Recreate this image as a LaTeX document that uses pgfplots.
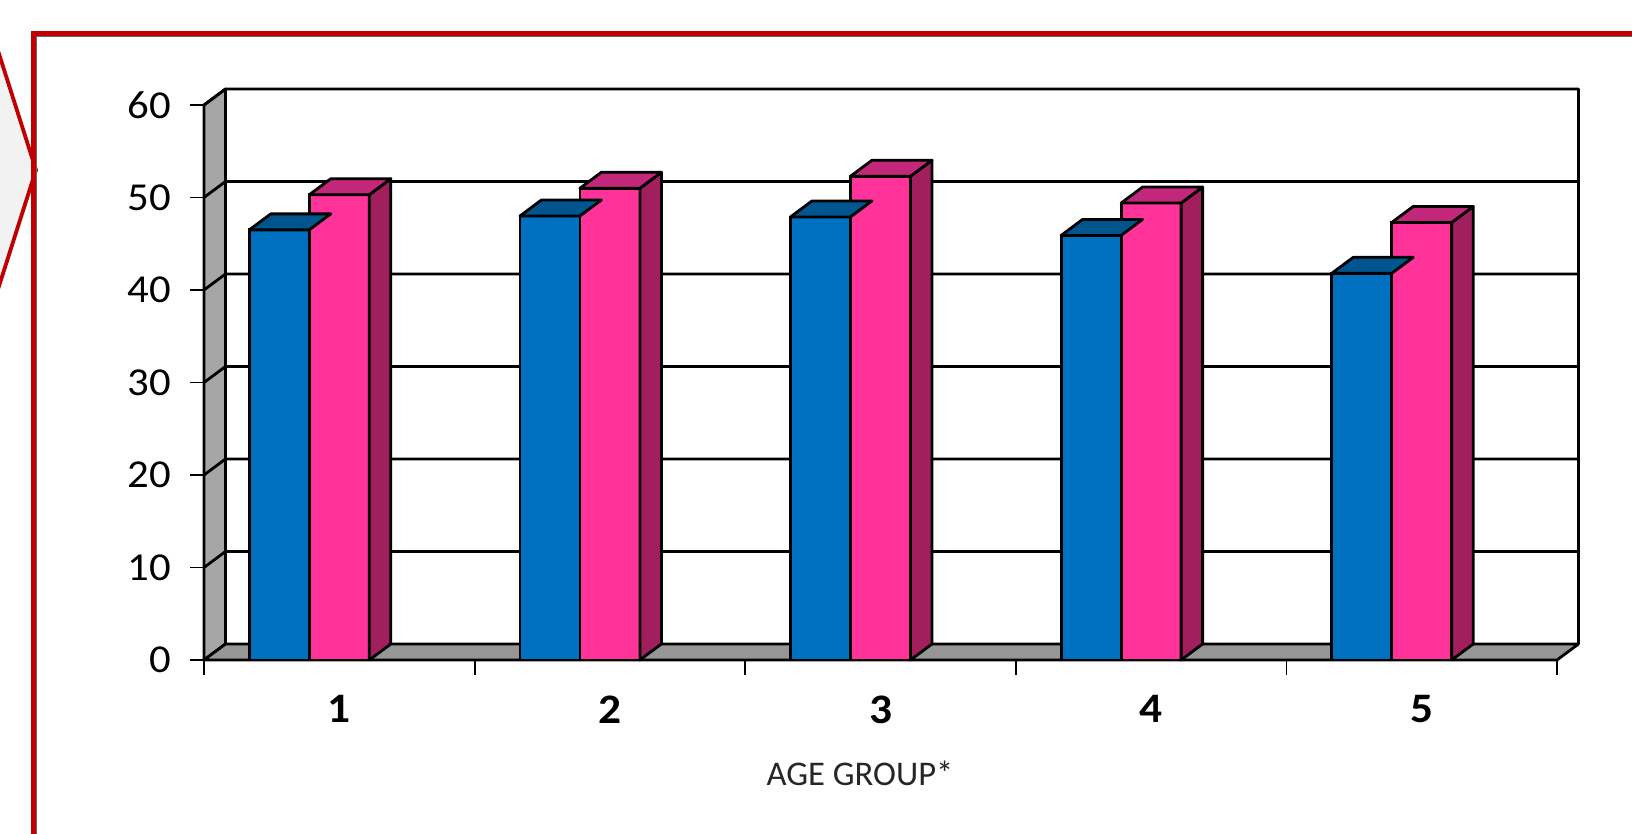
\documentclass[border=0pt]{standalone}
\usepackage{pgfplots}
\usepackage{pgfplotstable}
\pgfplotsset{compat=1.18}
\usepackage{fontspec}
\setmainfont{Carlito}
\newfontfamily\widefont[FakeStretch=1.08]{Carlito}
\definecolor{bfront}{HTML}{0070C0}
\definecolor{btop}{HTML}{00558F}
\definecolor{pfront}{HTML}{FF3399}
\definecolor{ptop}{HTML}{C2277A}
\definecolor{pside}{HTML}{A21F5E}
\definecolor{wallgray}{HTML}{A6A6A6}
\definecolor{floorgray}{HTML}{969696}
\definecolor{framered}{HTML}{C00000}
\definecolor{arrowfill}{HTML}{F2F2F2}

\pgfplotstableread{
g v
1 46.5
2 48.0
3 47.9
4 45.9
5 41.8
}\bluedata
\pgfplotstableread{
g v
1 50.3
2 51.0
3 52.3
4 49.4
5 47.3
}\pinkdata

\pgfdeclareplotmark{bluetop}{%
  \filldraw[fill=btop,draw=black,line width=1.4pt,line join=round]
    (-45pt,0pt) -- (-34.25pt,8pt) -- (-4.25pt,8pt) -- (-15pt,0pt) -- cycle;
}
\pgfdeclareplotmark{pinkfaces}{%
  \filldraw[fill=pside,draw=black,line width=1.4pt,line join=round]
    (15pt,0pt) -- (25.75pt,8pt) -- (25.75pt,{8pt-\yv*4.625pt}) -- (15pt,{-\yv*4.625pt}) -- cycle;
  \filldraw[fill=ptop,draw=black,line width=1.4pt,line join=round]
    (-15pt,0pt) -- (-4.25pt,8pt) -- (25.75pt,8pt) -- (15pt,0pt) -- cycle;
}

\begin{document}
\begin{tikzpicture}
\useasboundingbox (0,0) rectangle (816pt,417pt);
\clip (0,0) rectangle (816pt,417pt);
% left arrow shape
\filldraw[fill=arrowfill, draw=framered, line width=1.9pt] (-3pt,397.9pt) -- (18pt,332pt) -- (-3pt,266.1pt) -- cycle;
% red frame
\draw[framered, line width=2.65pt] (16.7pt,400pt) rectangle (900pt,-50pt);
\draw[black!60, line width=0.5pt] (18.3pt,-50pt) -- (18.3pt,398.5pt) -- (900pt,398.5pt);

\begin{axis}[
  at={(102pt,87pt)}, anchor=south west,
  x=135.3pt, y=4.625pt,
  xmin=0.5, xmax=5.5795, ymin=0, ymax=61.73,
  clip=false,
  axis line style={draw=none},
  tick align=outside, tick pos=left,
  xtick={1,2,3,4,5}, xticklabels={1,2,3,4,5},
  minor xtick={0.5,1.5,2.5,3.5,4.5,5.5},
  ytick={0,10,20,30,40,50,60},
  major tick length=7pt, minor tick length=7.5pt,
  every major x tick/.append style={draw=none},
  tick style={black, line width=0.9pt},
  /pgf/number format/assume math mode=true,
  yticklabel style={font=\widefont\fontsize{19.8}{22}\selectfont, xshift=-6pt},
  xticklabel style={font=\widefont\fontsize{21}{24}\selectfont\bfseries, yshift=-7.3pt},
]
% left wall
\addplot[forget plot, fill=wallgray, draw=black, line width=1.4pt, line join=round] coordinates {(0.5,0) (0.5,60) (0.5795,61.73) (0.5795,1.73)} -- cycle;
% floor
\addplot[forget plot, fill=floorgray, draw=black, line width=1.4pt, line join=round] coordinates {(0.5,0) (5.5,0) (5.5795,1.73) (0.5795,1.73)} -- cycle;
% back wall gridlines
\addplot[forget plot, black, line width=1.4pt] coordinates {(0.5,10) (0.5795,11.73) (5.5795,11.73)};
\addplot[forget plot, black, line width=1.4pt] coordinates {(0.5,20) (0.5795,21.73) (5.5795,21.73)};
\addplot[forget plot, black, line width=1.4pt] coordinates {(0.5,30) (0.5795,31.73) (5.5795,31.73)};
\addplot[forget plot, black, line width=1.4pt] coordinates {(0.5,40) (0.5795,41.73) (5.5795,41.73)};
\addplot[forget plot, black, line width=1.4pt] coordinates {(0.5,50) (0.5795,51.73) (5.5795,51.73)};
\addplot[forget plot, black, line width=1.4pt, line join=round] coordinates {(0.5,60) (0.5795,61.73) (5.5795,61.73) (5.5795,1.73)};
% blue bars
\addplot[ybar, bar width=30pt, bar shift=-30pt, fill=bfront, draw=black, line width=1.4pt] table[x=g,y=v] {\bluedata};
\addplot[only marks, scatter, mark=bluetop, visualization depends on={y \as \yv},
  scatter/@pre marker code/.code={}, scatter/@post marker code/.code={}] table[x=g,y=v] {\bluedata};
% pink bars
\addplot[ybar, bar width=30pt, bar shift=0pt, fill=pfront, draw=black, line width=1.4pt] table[x=g,y=v] {\pinkdata};
\addplot[only marks, scatter, mark=pinkfaces, visualization depends on={y \as \yv},
  scatter/@pre marker code/.code={}, scatter/@post marker code/.code={}] table[x=g,y=v] {\pinkdata};
\node[font=\fontsize{17.3}{20}\selectfont, text=black!85] at (axis cs:2.924,-12.3) {AGE GROUP*};
\end{axis}
\end{tikzpicture}
\end{document}
